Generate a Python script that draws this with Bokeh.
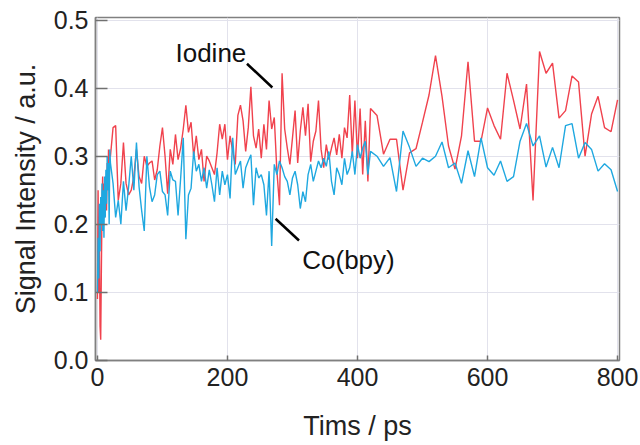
from bokeh.plotting import figure
from bokeh.models import Range1d, FixedTicker, Label, ColumnDataSource
from bokeh.embed import file_html
from bokeh.resources import INLINE

# ---- time axes (ps) ----
t_fast = list(range(0, 20, 1))
t_mid = list(range(20, 420, 4))
t_slow = list(range(420, 810, 10))

# ---- Iodine (red) ----
iodine_fast = [0.09, 0.25, 0.10, 0.18, 0.05, 0.03, 0.13, 0.22, 0.27, 0.20,
               0.26, 0.21, 0.23, 0.27, 0.22, 0.29, 0.25, 0.31, 0.26, 0.30]
iodine_mid = [0.300, 0.342, 0.345, 0.235, 0.260, 0.320, 0.260, 0.243, 0.250, 0.270,
              0.310, 0.270, 0.260, 0.300, 0.285, 0.290, 0.293, 0.265, 0.280, 0.315,
              0.342, 0.300, 0.245, 0.310, 0.288, 0.332, 0.295, 0.312, 0.340, 0.375,
              0.335, 0.350, 0.300, 0.330, 0.295, 0.310, 0.263, 0.300, 0.293, 0.283,
              0.273, 0.305, 0.347, 0.325, 0.347, 0.295, 0.330, 0.307, 0.288, 0.360,
              0.375, 0.352, 0.307, 0.342, 0.402, 0.330, 0.312, 0.340, 0.297, 0.347,
              0.310, 0.382, 0.340, 0.357, 0.278, 0.228, 0.422, 0.340, 0.312, 0.288,
              0.327, 0.367, 0.290, 0.337, 0.372, 0.330, 0.377, 0.292, 0.322, 0.337,
              0.382, 0.310, 0.283, 0.317, 0.295, 0.312, 0.327, 0.302, 0.332, 0.297,
              0.342, 0.327, 0.390, 0.302, 0.382, 0.297, 0.370, 0.273, 0.352, 0.263]
iodine_slow = [0.370, 0.360, 0.303, 0.325, 0.325, 0.250, 0.305, 0.311, 0.350, 0.390,
               0.448, 0.388, 0.315, 0.281, 0.330, 0.439, 0.322, 0.322, 0.371, 0.345,
               0.325, 0.422, 0.382, 0.340, 0.406, 0.235, 0.454, 0.422, 0.437, 0.356,
               0.367, 0.418, 0.409, 0.300, 0.362, 0.388, 0.342, 0.336, 0.383]

# ---- Co(bpy) (blue) ----
cobpy_fast = [0.10, 0.18, 0.12, 0.23, 0.16, 0.24, 0.20, 0.26, 0.19, 0.25,
              0.18, 0.27, 0.21, 0.28, 0.23, 0.30, 0.25, 0.29, 0.20, 0.31]
cobpy_mid = [0.290, 0.260, 0.210, 0.235, 0.200, 0.263, 0.220, 0.255, 0.300, 0.250,
             0.320, 0.255, 0.220, 0.190, 0.300, 0.255, 0.233, 0.243, 0.273, 0.278,
             0.248, 0.243, 0.213, 0.278, 0.265, 0.263, 0.213, 0.268, 0.327, 0.178,
             0.243, 0.253, 0.307, 0.278, 0.288, 0.263, 0.283, 0.253, 0.280, 0.258,
             0.233, 0.283, 0.243, 0.278, 0.258, 0.273, 0.238, 0.327, 0.273, 0.283,
             0.293, 0.253, 0.283, 0.293, 0.302, 0.228, 0.283, 0.268, 0.273, 0.258,
             0.213, 0.278, 0.168, 0.288, 0.273, 0.293, 0.283, 0.270, 0.263, 0.243,
             0.268, 0.278, 0.258, 0.223, 0.248, 0.233, 0.273, 0.288, 0.263, 0.278,
             0.293, 0.283, 0.297, 0.285, 0.307, 0.263, 0.243, 0.283, 0.273, 0.258,
             0.297, 0.273, 0.283, 0.307, 0.273, 0.317, 0.297, 0.312, 0.322, 0.273]
cobpy_slow = [0.307, 0.300, 0.285, 0.298, 0.248, 0.337, 0.313, 0.285, 0.297, 0.292,
              0.300, 0.321, 0.283, 0.290, 0.260, 0.308, 0.270, 0.327, 0.283, 0.272,
              0.293, 0.263, 0.270, 0.322, 0.348, 0.315, 0.330, 0.284, 0.313, 0.283,
              0.345, 0.348, 0.297, 0.320, 0.310, 0.278, 0.289, 0.280, 0.248]

x_ticks = [0, 200, 400, 600, 800]
y_ticks = [0.0, 0.1, 0.2, 0.3, 0.4, 0.5]

# annotation anchors (data coords)
iodine_label = (120, 0.452)
iodine_pointer = ([230, 269], [0.436, 0.401])
cobpy_label = (315, 0.148)
cobpy_pointer = ([274, 310], [0.208, 0.176])

RED = "#F0424D"
BLUE = "#1FA8E0"
FONT = "Liberation Sans"

time = t_fast + t_mid + t_slow
iodine = iodine_fast + iodine_mid + iodine_slow
cobpy = cobpy_fast + cobpy_mid + cobpy_slow

p = figure(width=640, height=445, output_backend="svg", toolbar_location=None,
           x_range=Range1d(-3, 803), y_range=Range1d(-0.0005, 0.504),
           min_border_left=95, min_border_right=21, min_border_top=17, min_border_bottom=85)

src = ColumnDataSource(dict(t=time, iodine=iodine, cobpy=cobpy))
p.line("t", "iodine", source=src, line_color=RED, line_width=1.4)
p.line("t", "cobpy", source=src, line_color=BLUE, line_width=1.4)

p.segment(x0=[iodine_pointer[0][0]], y0=[iodine_pointer[1][0]],
          x1=[iodine_pointer[0][1]], y1=[iodine_pointer[1][1]], line_color="black", line_width=2.5)
p.segment(x0=[cobpy_pointer[0][0]], y0=[cobpy_pointer[1][0]],
          x1=[cobpy_pointer[0][1]], y1=[cobpy_pointer[1][1]], line_color="black", line_width=2.5)

p.add_layout(Label(x=iodine_label[0], y=iodine_label[1], text="Iodine", text_font=FONT,
                   text_font_size="26px", text_color="#111111", text_baseline="middle"))
p.add_layout(Label(x=cobpy_label[0], y=cobpy_label[1], text="Co(bpy)", text_font=FONT,
                   text_font_size="26px", text_color="#111111", text_baseline="middle"))

# axes
p.xaxis.ticker = FixedTicker(ticks=x_ticks)
p.yaxis.ticker = FixedTicker(ticks=y_ticks)

for ax in (p.xaxis[0], p.yaxis[0]):
    ax.axis_line_color = "#808080"
    ax.axis_line_width = 1.5
    ax.major_tick_line_color = "#707070"
    ax.major_tick_line_width = 1.5
    ax.minor_tick_line_color = None
    ax.major_tick_out = 0
    ax.major_label_text_font = FONT
    ax.major_label_text_font_size = "25px"
    ax.major_label_text_color = "#222222"
    ax.axis_label_text_font = FONT
    ax.axis_label_text_font_size = "27px"
    ax.axis_label_text_font_style = "normal"
    ax.axis_label_text_color = "#222222"

p.yaxis.major_label_overrides = {0: "0.0"}
p.xaxis.major_tick_in = 5
p.yaxis.major_tick_in = 12
p.xaxis.major_label_standoff = 7
p.yaxis.major_label_standoff = 7
p.xaxis.axis_label = "Tims / ps"
p.yaxis.axis_label = "Signal Intensity / a.u."
p.xaxis.axis_label_standoff = 22
p.yaxis.axis_label_standoff = 10

p.xgrid.ticker = FixedTicker(ticks=x_ticks)
p.ygrid.ticker = FixedTicker(ticks=y_ticks)
p.grid.grid_line_color = "#E2E2EC"
p.grid.grid_line_width = 1

p.outline_line_color = "#808080"
p.outline_line_width = 1.5
p.background_fill_color = "white"
p.border_fill_color = "white"

open("out.html", "w").write(file_html(p, INLINE))
